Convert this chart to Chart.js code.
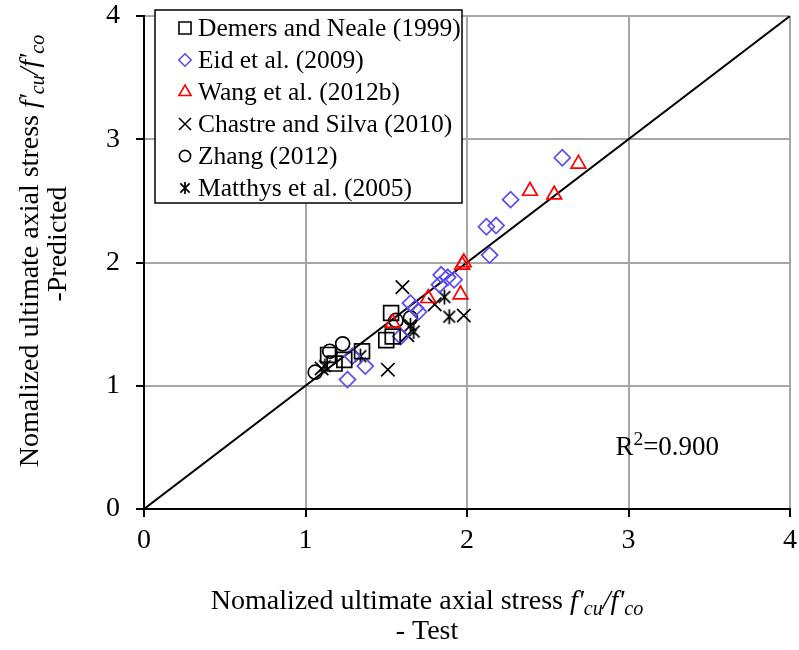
<!DOCTYPE html>
<html>
<head>
<meta charset="utf-8">
<script src="https://cdn.jsdelivr.net/npm/chart.js@4.4.1/dist/chart.umd.min.js"></script>
<style>
  body { margin: 0; background: #fff; }
  #wrap { width: 799px; height: 650px; }
</style>
</head>
<body>
<div id="wrap"><canvas id="chart" width="799" height="650"></canvas></div>
<script>
// Normalized ultimate axial stress: test (x) vs predicted (y)
const demersX = [1.53, 1.50, 1.54, 1.35, 1.24, 1.18, 1.14];
const demersY = [1.59, 1.37, 1.40, 1.28, 1.21, 1.18, 1.25];

const eidX = [2.59, 2.27, 2.12, 2.18, 2.14, 1.84, 1.88, 1.92, 1.83, 1.65, 1.68, 1.70, 1.59, 1.29, 1.37, 1.26];
const eidY = [2.85, 2.51, 2.29, 2.30, 2.06, 1.90, 1.88, 1.86, 1.82, 1.67, 1.63, 1.60, 1.40, 1.24, 1.16, 1.05];

const wangX = [2.69, 2.39, 2.54, 1.97, 1.98, 1.96, 1.76, 1.54];
const wangY = [2.80, 2.58, 2.55, 1.98, 2.00, 1.74, 1.71, 1.51];

const chastreX = [1.60, 1.80, 1.98, 1.63, 1.51, 1.10];
const chastreY = [1.80, 1.66, 1.57, 1.41, 1.13, 1.14];

const zhangX = [1.06, 1.15, 1.23, 1.56, 1.65];
const zhangY = [1.11, 1.28, 1.34, 1.53, 1.55];

const matthysX = [1.86, 1.89, 1.65, 1.67, 1.34, 1.12];
const matthysY = [1.72, 1.56, 1.49, 1.44, 1.24, 1.16];

// line of equality
const equalityLine = [0, 4];

const axisTicks = [0, 1, 2, 3, 4];
const rSquared = '0.900';

const FONT = "'Liberation Serif', 'Times New Roman', serif";

function toPoints(xs, ys) {
  return xs.map((x, i) => ({ x: x, y: ys[i] }));
}

// six-armed asterisk marker (X with a vertical stroke)
function asteriskMarker(size, lw) {
  const c = document.createElement('canvas');
  c.width = c.height = size + 4;
  const g = c.getContext('2d');
  const m = (size + 4) / 2;
  const r = size / 2;
  const d = r * 0.78;
  g.strokeStyle = '#000';
  g.lineWidth = lw;
  g.beginPath();
  g.moveTo(m, m - r); g.lineTo(m, m + r);
  g.moveTo(m - d, m - d); g.lineTo(m + d, m + d);
  g.moveTo(m + d, m - d); g.lineTo(m - d, m + d);
  g.stroke();
  return c;
}

function scatterSet(label, xs, ys, style, color, radius, legendRadius) {
  return {
    type: 'scatter',
    label: label,
    data: toPoints(xs, ys),
    pointStyle: style,
    pointRadius: radius,
    pointBorderWidth: 1.7,
    pointBorderColor: color,
    pointBackgroundColor: 'rgba(0,0,0,0)',
    borderColor: color,
    backgroundColor: 'rgba(0,0,0,0)',
    legendRadius: legendRadius,
  };
}

const datasets = [
  scatterSet('Demers and Neale (1999)', demersX, demersY, 'rect', '#000', 10.5, 8.5),
  scatterSet('Eid et al. (2009)', eidX, eidY, 'rectRot', '#5a4cf0', 8, 6.2),
  scatterSet('Wang et al. (2012b)', wangX, wangY, 'triangle', '#ff0000', 8.5, 7),
  scatterSet('Chastre and Silva (2010)', chastreX, chastreY, 'crossRot', '#000', 9.5, 8.5),
  scatterSet('Zhang (2012)', zhangX, zhangY, 'circle', '#000', 7, 5.6),
  scatterSet('Matthys et al. (2005)', matthysX, matthysY, asteriskMarker(15, 1.7), '#000', 8, 6),
];
datasets[5].legendStyle = asteriskMarker(12, 1.7);

datasets.push({
  type: 'line',
  label: 'equality',
  data: toPoints(equalityLine, equalityLine),
  borderColor: '#000',
  borderWidth: 2,
  pointRadius: 0,
  fill: false,
  order: 10,
});

// mixed italic / subscript text, centred on x
function drawRich(ctx, parts, x, y, size) {
  const fontFor = p => {
    const s = p.sub || p.sup ? size * 0.72 : size;
    return (p.italic ? 'italic ' : '') + s + 'px ' + FONT;
  };
  let total = 0;
  parts.forEach(p => { ctx.font = fontFor(p); total += ctx.measureText(p.t).width; });
  let cx = x - total / 2;
  ctx.textAlign = 'left';
  ctx.textBaseline = 'alphabetic';
  parts.forEach(p => {
    ctx.font = fontFor(p);
    let dy = 0;
    if (p.sub) dy = size * 0.22;
    if (p.sup) dy = -size * 0.36;
    ctx.fillText(p.t, cx, y + dy);
    cx += ctx.measureText(p.t).width;
  });
}

const stressLabel = [
  { t: 'Nomalized ultimate axial stress ' },
  { t: "f'", italic: true },
  { t: 'cu', italic: true, sub: true },
  { t: "/f'", italic: true },
  { t: 'co', italic: true, sub: true },
];

const extras = {
  id: 'extras',
  afterDraw(chart) {
    const ctx = chart.ctx;
    const xs = chart.scales.x;
    const ys = chart.scales.y;
    ctx.save();
    ctx.fillStyle = '#000';

    // axis titles
    drawRich(ctx, stressLabel, 427, 609, 28);
    drawRich(ctx, [{ t: '- Test' }], 427, 639, 28);

    ctx.save();
    ctx.translate(38, 251);
    ctx.rotate(-Math.PI / 2);
    drawRich(ctx, stressLabel, 0, 0, 28);
    ctx.restore();
    ctx.save();
    ctx.translate(66, 244);
    ctx.rotate(-Math.PI / 2);
    drawRich(ctx, [{ t: '-Predicted' }], 0, 0, 28);
    ctx.restore();

    // coefficient of determination
    const rx = xs.getPixelForValue(3.24);
    const ry = ys.getPixelForValue(0.44);
    drawRich(ctx, [{ t: 'R' }, { t: '2', sup: true }, { t: '=' + rSquared }], rx, ry, 27);

    // legend box
    const bx = 155, by = 10, bw = 307, bh = 193;
    ctx.fillStyle = '#fff';
    ctx.fillRect(bx, by, bw, bh);
    ctx.strokeStyle = '#000';
    ctx.lineWidth = 1.5;
    ctx.strokeRect(bx, by, bw, bh);

    chart.data.datasets.filter(d => d.type === 'scatter').forEach((d, i) => {
      const cy = 28 + i * 32;
      ctx.save();
      ctx.strokeStyle = d.pointBorderColor;
      ctx.fillStyle = 'rgba(0,0,0,0)';
      ctx.lineWidth = 1.6;
      Chart.helpers.drawPoint(ctx, {
        pointStyle: d.legendStyle || d.pointStyle,
        radius: d.legendRadius,
        rotation: 0,
        borderWidth: 1.6,
      }, 185, cy);
      ctx.restore();
      ctx.fillStyle = '#000';
      ctx.font = '25.5px ' + FONT;
      ctx.textAlign = 'left';
      ctx.textBaseline = 'middle';
      ctx.fillText(d.label, 198, cy + 1);
    });
    ctx.restore();
  },
};

const tickFont = { family: FONT, size: 28 };

new Chart(document.getElementById('chart'), {
  type: 'scatter',
  data: { datasets: datasets },
  options: {
    responsive: false,
    animation: false,
    layout: { autoPadding: false, padding: { top: 16, right: 9, left: 0, bottom: 0 } },
    plugins: {
      legend: { display: false },
      tooltip: { enabled: false },
    },
    scales: {
      x: {
        type: 'linear',
        min: 0,
        max: 4,
        afterBuildTicks: s => { s.ticks = axisTicks.map(v => ({ value: v })); },
        ticks: { color: '#000', font: tickFont, padding: 7 },
        grid: { color: '#a6a6a6', lineWidth: 2, tickColor: '#000', tickLength: 8 },
        border: { color: '#000', width: 2 },
        afterFit: s => { s.height = 141; s.paddingLeft = 0; s.paddingRight = 0; },
      },
      y: {
        type: 'linear',
        min: 0,
        max: 4,
        afterBuildTicks: s => { s.ticks = axisTicks.map(v => ({ value: v })); },
        ticks: { color: '#000', font: tickFont, padding: 16 },
        grid: { color: '#a6a6a6', lineWidth: 2, tickColor: '#000', tickLength: 8 },
        border: { color: '#000', width: 2 },
        afterFit: s => { s.width = 144; s.paddingTop = 0; s.paddingBottom = 0; },
      },
    },
  },
  plugins: [extras],
});
</script>
</body>
</html>
